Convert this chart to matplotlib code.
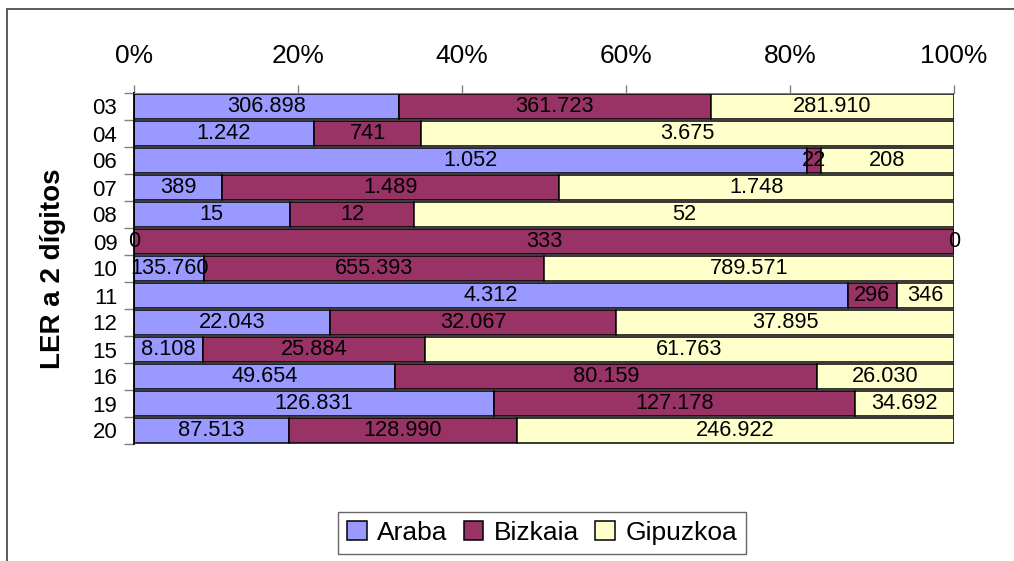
import numpy as np
import matplotlib
matplotlib.use("Agg")
import matplotlib.pyplot as plt
from matplotlib.patches import Rectangle
from matplotlib.ticker import FixedLocator, PercentFormatter

plt.rcParams['font.family'] = ['Liberation Sans', 'DejaVu Sans']

categories = ["03", "04", "06", "07", "08", "09", "10", "11", "12", "15", "16", "19", "20"]
series_names = ["Araba", "Bizkaia", "Gipuzkoa"]
araba = [306898, 1242, 1052, 389, 15, 0, 135760, 4312, 22043, 8108, 49654, 126831, 87513]
bizkaia = [361723, 741, 22, 1489, 12, 333, 655393, 296, 32067, 25884, 80159, 127178, 128990]
gipuzkoa = [281910, 3675, 208, 1748, 52, 0, 789571, 346, 37895, 61763, 26030, 34692, 246922]
colors = ["#9999FF", "#993366", "#FFFFCC"]
xticks = [0, 20, 40, 60, 80, 100]

data = np.array([araba, bizkaia, gipuzkoa], dtype=float)
totals = data.sum(axis=0)
pct = data / totals * 100

W, H = 1014, 561
fig = plt.figure(figsize=(W / 100, H / 100), dpi=100)
ax = fig.add_axes([134 / W, 1 - 444 / H, 820 / W, 351 / H])

y = np.arange(len(categories))
left = np.zeros(len(categories))


def fmt(v):
    return f"{int(v):,}".replace(",", ".")


for i, name in enumerate(series_names):
    bars = ax.barh(y, pct[i], left=left, height=0.95, color=colors[i],
                   edgecolor="black", linewidth=1.1, label=name, zorder=2)
    for j, b in enumerate(bars):
        cx = left[j] + pct[i][j] / 2
        ax.text(cx, y[j], fmt(data[i][j]), ha="center", va="center",
                fontsize=15.7, color="black", zorder=3)
    left += pct[i]

ax.set_xlim(0, 100)
ax.set_ylim(len(categories) - 0.5, -0.5)

ax.xaxis.tick_top()
ax.set_xticks(xticks)
ax.xaxis.set_major_formatter(PercentFormatter(decimals=0))
ax.tick_params(axis="x", which="major", length=6, width=1, color="#808080",
               labelsize=19, pad=12, direction="out")

ax.set_yticks(y)
ax.set_yticklabels(categories)
ax.yaxis.set_minor_locator(FixedLocator(np.arange(-0.5, len(categories), 1.0)))
ax.tick_params(axis="y", which="major", length=0, labelsize=16, pad=12)
ax.tick_params(axis="y", which="minor", length=7, width=1, color="#808080", direction="out")

for s in ["right", "bottom"]:
    ax.spines[s].set_visible(False)
ax.spines["left"].set_linewidth(1.3)
ax.spines["top"].set_color("#808080")

ax.set_ylabel("LER a 2 dígitos", fontsize=20, fontweight="bold")
ax.yaxis.label.set_va("center")
ax.yaxis.set_label_coords((53 - 134) / 820, 0.5)

leg = fig.legend(loc="center", bbox_to_anchor=(542 / W, 1 - 533 / H), ncol=3,
                 fontsize=19, frameon=True, fancybox=False, edgecolor="#404040",
                 handlelength=0.75, handleheight=0.75, handletextpad=0.4,
                 columnspacing=0.6, borderpad=0.35, borderaxespad=0)
leg.get_frame().set_linewidth(1.0)

fig.patches.append(Rectangle((7 / W, -0.05), 1.1, 1 - 9 / H + 0.05,
                             transform=fig.transFigure, fill=False,
                             edgecolor="#404040", linewidth=1.2))

fig.savefig("out.png", dpi=100)
